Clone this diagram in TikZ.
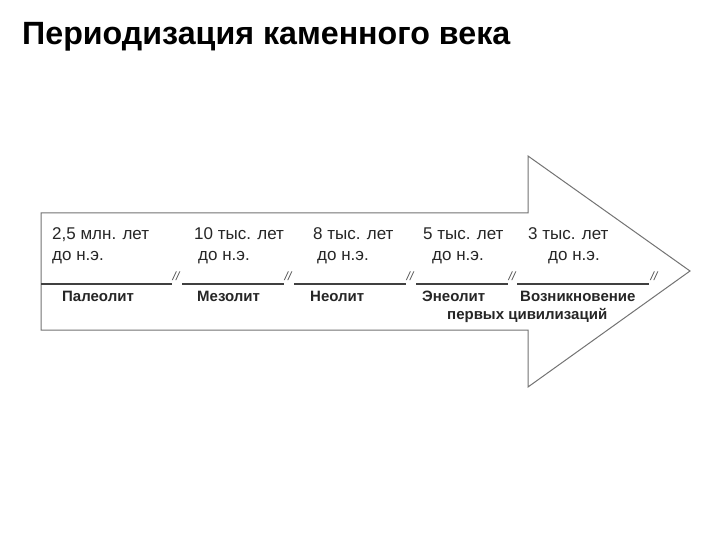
\documentclass[tikz,border=0pt]{standalone}
\usepackage{fontspec}
\setmainfont{Liberation Sans}
\begin{document}
\begin{tikzpicture}[x=1pt,y=-1pt,
  outl/.style={draw=black!55, line width=1pt},
  tline/.style={draw=black!75, line width=2.2pt},
  brk/.style={font=\fontsize{12}{12}\selectfont\itshape, text=black!70, inner sep=0pt},
  datetxt/.style={font=\fontsize{17}{18}\selectfont, text=black!85, inner sep=0pt, anchor=base west},
  era/.style={font=\fontsize{15}{16}\selectfont\bfseries, text=black!85, inner sep=0pt, anchor=base west},
  title/.style={font=\fontsize{32.2}{34}\selectfont\bfseries, inner sep=0pt, anchor=west}]
\useasboundingbox[fill=white] (0,0) rectangle (720,540);
\node[title] (ttl) at (22,37) {Периодизация каменного века};
% arrow outline
\draw[outl] (41,213) -- (528,213) -- (528,156) -- (690,271) -- (528,387) -- (528,330) -- (41,330) -- cycle;
% timeline
\coordinate (t0) at (41,284);
\node[brk] (b1) at (176,276) {//};
\node[brk] (b2) at (288,276) {//};
\node[brk] (b3) at (410,276) {//};
\node[brk] (b4) at (512,276) {//};
\node[brk] (b5) at (654,276) {//};
\coordinate (s1a) at (172,284); \coordinate (s1b) at (182,284);
\coordinate (s2a) at (284,284); \coordinate (s2b) at (294,284);
\coordinate (s3a) at (406,284); \coordinate (s3b) at (416,284);
\coordinate (s4a) at (508,284); \coordinate (s4b) at (517,284);
\coordinate (s5a) at (649,284);
\draw[tline] (t0) -- (s1a);
\draw[tline] (s1b) -- (s2a);
\draw[tline] (s2b) -- (s3a);
\draw[tline] (s3b) -- (s4a);
\draw[tline] (s4b) -- (s5a);
% dates
\node[datetxt] (d1) at (52,240) {2,5 млн. лет};
\node[datetxt] (d1b) at (52,260) {до н.э.};
\node[datetxt] (d2) at (194,240) {10 тыс. лет};
\node[datetxt] (d2b) at (198,260) {до н.э.};
\node[datetxt] (d3) at (313,240) {8 тыс. лет};
\node[datetxt] (d3b) at (317,260) {до н.э.};
\node[datetxt] (d4) at (423,240) {5 тыс. лет};
\node[datetxt] (d4b) at (432,260) {до н.э.};
\node[datetxt] (d5) at (528,240) {3 тыс. лет};
\node[datetxt] (d5b) at (548,260) {до н.э.};
% eras
\node[era] (e1) at (62,301) {Палеолит};
\node[era] (e2) at (197,301) {Мезолит};
\node[era] (e3) at (310,301) {Неолит};
\node[era] (e4) at (422,301) {Энеолит};
\node[era] (e5) at (520,301) {Возникновение};
\node[era] (e5b) at (447,319) {первых цивилизаций};
\end{tikzpicture}
\end{document}
